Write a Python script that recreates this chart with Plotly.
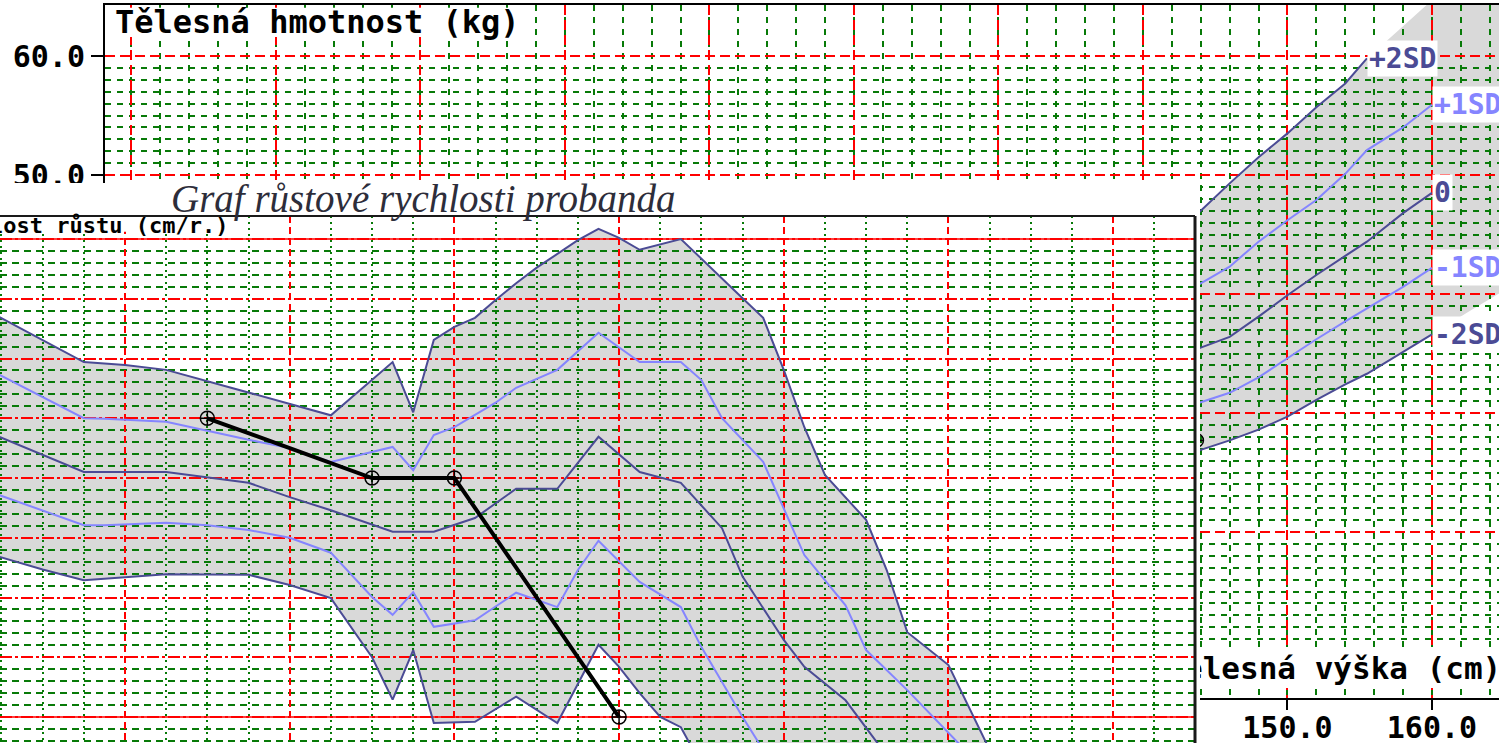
import plotly.graph_objects as go

W, H = 1499, 743

# ---------------- Weight-for-height reference (kg by body height in cm) ----------------
wh_height = [140, 142, 144, 146, 148, 150, 152, 154, 155.5, 158, 160, 162.5, 165]
wh_plus2 = [42.6, 44.8, 47.0, 49.3, 51.5, 53.5, 55.7, 57.7, 59.8, 62.5, 64.7, 67.5, 70.3]
wh_plus1 = [38.0, 39.5, 40.9, 42.3, 44.4, 46.2, 47.9, 50.1, 52.1, 54.0, 55.9, 58.5, 61.0]
wh_median = [33.5, 34.5, 35.5, 36.4, 38.1, 39.9, 41.6, 43.2, 44.4, 46.8, 48.5, 50.5, 52.7]
wh_minus1 = [29.1, 30.0, 30.9, 31.7, 33.0, 34.6, 36.2, 37.7, 38.8, 40.6, 42.2, 44.0, 46.0]
wh_minus2 = [25.2, 26.0, 26.9, 27.7, 28.6, 29.7, 31.1, 32.4, 33.3, 35.1, 36.6, 38.5, 40.3]
wh_names = ["+2SD", "+1SD", "0", "-1SD", "-2SD"]
wh_label_height = [155.5, 160, 160, 160, 160]

# Height axis ticks (cm) and weight axis ticks (kg)
wh_height_ticks = [70, 80, 90, 100, 110, 120, 130, 140, 150, 160]
wh_height_ticktext = ["", "", "", "", "", "", "", "", "150.0", "160.0"]
wh_weight_ticks = [10, 20, 30, 40, 50, 60]
wh_weight_ticktext = ["", "", "", "", "50.0", "60.0"]

# Proband, weight for height
pb_height = [143.7]
pb_weight = [27.7]

# ---------------- Growth velocity reference (cm/yr by age in years) ----------------
gv_plus2_age = [10.2, 10.75, 11.0, 11.25, 12.25, 12.625, 12.75, 12.875, 13.0, 13.125, 13.25,
                13.375, 13.5, 13.75, 13.875, 14.0, 14.125, 14.375, 14.75, 14.875, 15.0, 15.125,
                15.25, 15.5, 15.625, 15.75, 16.0, 16.25]
gv_plus2 = [8.75, 7.94, 7.89, 7.81, 7.05, 7.94, 7.10, 8.31, 8.53, 8.68, 8.98,
            9.26, 9.52, 9.98, 10.17, 10.02, 9.82, 10.0, 9.01, 8.68, 7.81, 6.85,
            6.05, 5.30, 4.46, 3.42, 2.87, 1.45]

gv_plus1_age = [10.2, 10.75, 10.875, 11.25, 11.75, 12.0, 12.25, 12.625, 12.75, 12.875, 13.0,
                13.25, 13.375, 13.625, 13.875, 14.125, 14.375, 14.5, 14.625, 14.875, 15.125,
                15.375, 15.5, 15.75, 16.1]
gv_plus1 = [7.78, 7.00, 6.99, 6.94, 6.64, 6.50, 6.27, 6.52, 6.13, 6.72, 6.85,
            7.26, 7.51, 7.81, 8.43, 7.94, 7.94, 7.64, 7.00, 6.27, 4.71,
            3.87, 3.12, 2.45, 1.45]

gv_median_age = [10.2, 10.75, 11.25, 11.75, 12.0, 12.25, 12.625, 12.875, 13.125, 13.375, 13.625,
                 13.875, 14.125, 14.375, 14.625, 14.75, 15.0, 15.125, 15.375, 15.6]
gv_median = [6.73, 6.10, 6.10, 5.92, 5.68, 5.46, 5.10, 5.10, 5.33, 5.82, 5.82,
             6.69, 6.10, 5.92, 5.16, 4.35, 3.29, 2.84, 2.28, 1.45]

gv_minus1_age = [10.2, 10.75, 10.875, 11.25, 11.5, 11.75, 12.0, 12.25, 12.5, 12.625, 12.75,
                 12.875, 13.125, 13.375, 13.625, 13.75, 13.875, 14.125, 14.375, 14.5, 14.75, 14.875]
gv_minus1 = [5.75, 5.21, 5.21, 5.25, 5.21, 5.13, 5.00, 4.75, 4.01, 3.71, 4.09,
             3.51, 3.62, 4.08, 3.84, 4.46, 4.95, 4.26, 3.84, 3.17, 2.00, 1.45]

gv_minus2_age = [10.2, 10.5, 10.75, 11.0, 11.25, 11.75, 12.0, 12.25, 12.5, 12.625, 12.75,
                 12.875, 13.125, 13.375, 13.625, 13.875, 14.0, 14.125, 14.25, 14.375, 14.45]
gv_minus2 = [4.71, 4.47, 4.29, 4.34, 4.39, 4.38, 4.21, 3.99, 3.00, 2.29, 3.12,
             1.90, 1.92, 2.34, 1.90, 3.21, 2.84, 2.40, 2.00, 1.83, 1.45]

# Proband growth velocity
pb_age = [11.5, 12.5, 13.0, 14.0]
pb_velocity = [7.0, 6.0, 6.0, 2.0]

gv_solid_levels = [2, 10]

# ---------------- styling ----------------
DARK = "#4b4b95"
LIGHT = "#8585ff"
GRAY = "#d9d9d9"
RED = "#ff0000"
GREEN = "#087a08"
MONO = "DejaVu Sans Mono"

wh_xrange = [68.17, 164.64]
wh_yrange = [6.05, 64.29]
gv_xrange = [10.241, 17.497]
gv_yrange = [1.565, 10.385]


def area_path(xt, yt, xb, yb):
    pts = list(zip(xt, yt)) + list(zip(xb[::-1], yb[::-1]))
    return "M " + " L ".join(f"{x},{y}" for x, y in pts) + " Z"


fig = go.Figure()

# ---- weight-for-height chart (x, y) ----
wh_series = [wh_plus2, wh_plus1, wh_median, wh_minus1, wh_minus2]
wh_colors = [DARK, LIGHT, DARK, LIGHT, DARK]
for name, vals, col, end in zip(wh_names, wh_series, wh_colors, wh_label_height):
    xs = [h for h in wh_height if h <= end]
    ys = vals[:len(xs)]
    fig.add_trace(go.Scatter(x=xs, y=ys, mode="lines", name=name,
                             line=dict(color=col, width=2), xaxis="x", yaxis="y",
                             showlegend=False, hoverinfo="skip"))

fig.add_trace(go.Scatter(x=pb_height, y=pb_weight, mode="markers", xaxis="x", yaxis="y",
                         marker=dict(symbol="circle-cross-open", size=14, color="black",
                                     line=dict(width=1.5)),
                         showlegend=False, hoverinfo="skip"))

fig.add_trace(go.Scatter(x=[141.55], y=[8.3], mode="text", text=["Tělesná výška (cm)"],
                         textposition="middle right", xaxis="x", yaxis="y",
                         textfont=dict(family=MONO, size=31, color="black", weight="bold"),
                         showlegend=False, hoverinfo="skip"))

# ---- white panel carrying the growth-velocity chart (x2, y2) ----
fig.add_trace(go.Scatter(x=[0, 1, 1, 0, 0], y=[0, 0, 1, 1, 0], mode="lines", fill="toself",
                         fillcolor="white", line=dict(width=0), xaxis="x2", yaxis="y2",
                         showlegend=False, hoverinfo="skip"))

# ---- growth-velocity chart (x3, y3) ----
for lvl in gv_solid_levels:
    fig.add_trace(go.Scatter(x=gv_xrange, y=[lvl, lvl], mode="lines", xaxis="x3", yaxis="y3",
                             line=dict(color=RED, width=1.5), showlegend=False, hoverinfo="skip"))

gv_series = [(gv_plus2_age, gv_plus2, DARK), (gv_plus1_age, gv_plus1, LIGHT),
             (gv_median_age, gv_median, DARK), (gv_minus1_age, gv_minus1, LIGHT),
             (gv_minus2_age, gv_minus2, DARK)]
for ages, vals, col in gv_series:
    fig.add_trace(go.Scatter(x=ages, y=vals, mode="lines", xaxis="x3", yaxis="y3",
                             line=dict(color=col, width=2), showlegend=False, hoverinfo="skip"))

fig.add_trace(go.Scatter(x=pb_age, y=pb_velocity, mode="lines+markers", xaxis="x3", yaxis="y3",
                         line=dict(color="black", width=4),
                         marker=dict(symbol="circle-cross-open", size=14, color="black",
                                     line=dict(width=1.5)),
                         showlegend=False, hoverinfo="skip"))

shapes = [
    # reference band, weight for height
    dict(type="path", xref="x", yref="y", layer="below",
         path=area_path(wh_height, wh_plus2, wh_height, wh_minus2),
         fillcolor=GRAY, line=dict(width=0)),
    # reference band, growth velocity
    dict(type="path", xref="x3", yref="y3", layer="below",
         path=area_path(gv_plus2_age, gv_plus2, gv_minus2_age, gv_minus2),
         fillcolor=GRAY, line=dict(width=0)),
    # white boxes behind axis captions
    dict(type="rect", xref="x", yref="y", layer="between", x0=68.6, x1=97.8, y0=61.6, y1=64.05,
         fillcolor="white", line=dict(width=0)),
    dict(type="rect", xref="x", yref="y", layer="between", x0=141.0, x1=166.0, y0=6.9, y1=10.1,
         fillcolor="white", line=dict(width=0)),
    dict(type="rect", xref="x3", yref="y3", layer="between", x0=10.2, x1=11.66, y0=10.12, y1=10.5,
         fillcolor="white", line=dict(width=0)),
    # frame of the growth-velocity chart
    dict(type="line", xref="paper", yref="paper", layer="above",
         x0=0, x1=1195 / W, y0=1 - 216 / H, y1=1 - 216 / H, line=dict(color="#1a1a1a", width=2)),
    dict(type="line", xref="paper", yref="paper", layer="above",
         x0=1195 / W, x1=1195 / W, y0=0, y1=1 - 216 / H, line=dict(color="#1a1a1a", width=3)),
]

annotations = [
    dict(text="Tělesná hmotnost (kg)", xref="paper", yref="paper", x=113 / W, y=1 - 22 / H,
         xanchor="left", yanchor="middle", showarrow=False,
         font=dict(family=MONO, size=32, color="black", weight="bold")),
    dict(text="Graf růstové rychlosti probanda", xref="paper", yref="paper", x=423 / W,
         y=1 - 199 / H, xanchor="center", yanchor="middle", showarrow=False,
         font=dict(family="Liberation Serif", size=39, color="#2d2d3a", style="italic")),
    dict(text="Rychlost růstu (cm/r.)", xref="paper", yref="paper", x=230 / W, y=1 - 225 / H,
         xanchor="right", yanchor="middle", showarrow=False,
         font=dict(family=MONO, size=22, color="black", weight="bold")),
]
for name, vals, col, end in zip(wh_names, wh_series, wh_colors, wh_label_height):
    annotations.append(dict(text=name, xref="x", yref="y", x=end, y=vals[wh_height.index(end)],
                            xanchor="left", yanchor="middle", showarrow=False,
                            bgcolor="white", borderpad=1,
                            font=dict(family=MONO, size=28, color=col, weight="bold")))

wh_minor_y = [v for v in range(7, 60) if v % 10]
gv_minor_y = [round(v / 5, 1) for v in range(7, 50) if v % 5]

fig.update_layout(
    width=W, height=H, margin=dict(l=0, r=0, t=0, b=0),
    paper_bgcolor="white", plot_bgcolor="white", showlegend=False,
    shapes=shapes, annotations=annotations,
    xaxis=dict(domain=[105 / W, 1], range=wh_xrange, anchor="y",
               tickmode="array", tickvals=wh_height_ticks, ticktext=wh_height_ticktext,
               ticks="outside", ticklen=10, tickwidth=2, tickcolor="black", ticklabelstandoff=-8,
               showline=True, linewidth=2, linecolor="black", mirror=True, zeroline=False,
               showgrid=True, gridcolor=RED, gridwidth=2, griddash="10px,5px",
               minor=dict(dtick=2, tick0=0, showgrid=True, gridcolor=GREEN, gridwidth=2,
                          griddash="6px,6px"),
               tickfont=dict(family=MONO, size=30, color="black", weight="bold"),
               automargin=False),
    yaxis=dict(domain=[1 - 698 / H, 1 - 5 / H], range=wh_yrange, anchor="x",
               tickmode="array", tickvals=wh_weight_ticks, ticktext=wh_weight_ticktext,
               ticks="outside", ticklen=12, tickwidth=2, tickcolor="black",
               showline=True, linewidth=2, linecolor="black", zeroline=False,
               showgrid=True, gridcolor=RED, gridwidth=2, griddash="10px,5px",
               minor=dict(tickmode="array", tickvals=wh_minor_y, showgrid=True, gridcolor=GREEN,
                          gridwidth=2, griddash="6px,6px"),
               tickfont=dict(family=MONO, size=30, color="black", weight="bold"),
               automargin=False),
    xaxis2=dict(domain=[0, 1200 / W], range=[0, 1], anchor="y2", visible=False),
    yaxis2=dict(domain=[0, 1 - 183 / H], range=[0, 1], anchor="x2", visible=False),
    xaxis3=dict(domain=[0, 1195 / W], range=gv_xrange, anchor="y3", dtick=1, tick0=0,
                showticklabels=False, ticks="", showline=False, zeroline=False,
                showgrid=True, gridcolor=RED, gridwidth=2, griddash="7px,4px",
                minor=dict(dtick=0.25, tick0=0, showgrid=True, gridcolor=GREEN, gridwidth=2,
                           griddash="2px,4px"),
                automargin=False),
    yaxis3=dict(domain=[0, 1 - 216 / H], range=gv_yrange, anchor="x3", dtick=1, tick0=0,
                showticklabels=False, ticks="", showline=False, zeroline=False,
                showgrid=True, gridcolor=RED, gridwidth=1.5, griddash="12px,3px,3px,3px",
                minor=dict(tickmode="array", tickvals=gv_minor_y, showgrid=True, gridcolor=GREEN,
                           gridwidth=2, griddash="7px,5px"),
                automargin=False),
)

fig.write_html("out.html", config={"displayModeBar": False})
